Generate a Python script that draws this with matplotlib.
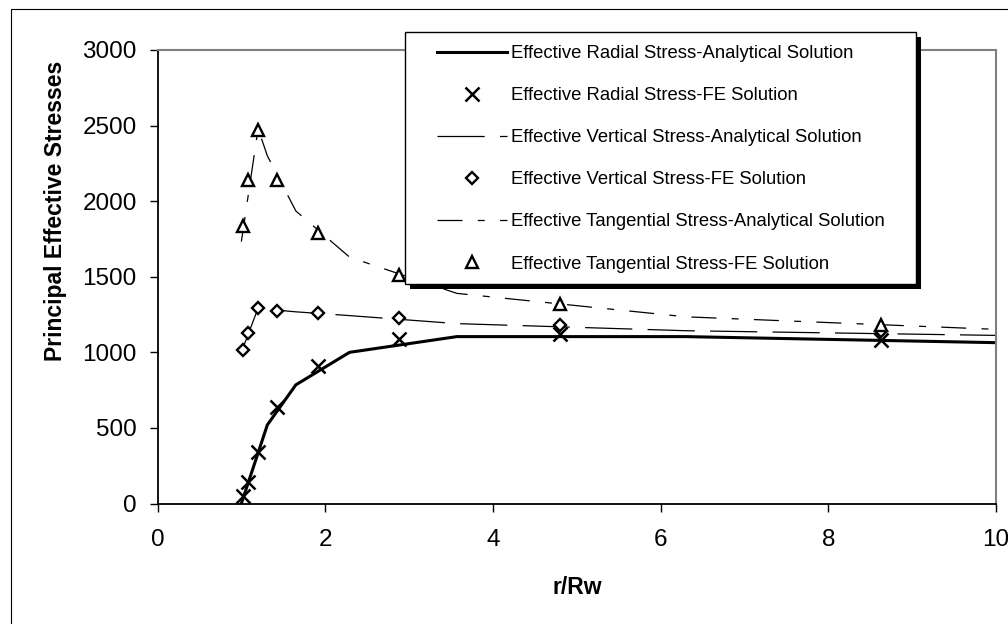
import matplotlib
matplotlib.use("Agg")
import matplotlib.pyplot as plt
from matplotlib.patches import Rectangle
from matplotlib.transforms import IdentityTransform

plt.rcParams['font.family'] = ['Liberation Sans', 'DejaVu Sans']
plt.rcParams['lines.scale_dashes'] = False

# FE solution points (r/Rw, stress)
fe_x = [1.02, 1.08, 1.2, 1.43, 1.92, 2.88, 4.8, 8.63]
fe_radial = [50, 144, 343, 640, 910, 1086, 1122, 1082]
fe_vertical = [1015, 1130, 1291, 1276, 1258, 1225, 1178, 1143]
fe_tangential = [1836, 2140, 2471, 2140, 1791, 1512, 1320, 1181]

# analytical solution curves
an_x = [1.0, 1.2, 1.31, 1.65, 2.29, 3.57, 6.3, 10.0]
an_radial = [0, 335, 520, 785, 1000, 1104, 1104, 1064]
an_vertical = [1000, 1293, 1285, 1268, 1243, 1190, 1143, 1112]
an_tangential = [1732, 2480, 2300, 1935, 1630, 1390, 1235, 1152]

labels = ["Effective Radial Stress-Analytical Solution",
          "Effective Radial Stress-FE Solution",
          "Effective Vertical Stress-Analytical Solution",
          "Effective Vertical Stress-FE Solution",
          "Effective Tangential Stress-Analytical Solution",
          "Effective Tangential Stress-FE Solution"]

W, H = 1008, 624
fig = plt.figure(figsize=(W / 100, H / 100), dpi=100)
ax = fig.add_axes([157.5 / W, 1 - 503.5 / H, (996 - 157.5) / W, (503.5 - 50) / H])

ax.plot(an_x, an_radial, color='black', lw=2.2, label=labels[0])
ax.plot(fe_x, fe_radial, ls='none', marker='x', ms=10, mew=1.8, color='black', label=labels[1])
ax.plot(an_x, an_vertical, color='black', lw=0.9, ls=(0, (34, 11)), label=labels[2])
ax.plot(fe_x, fe_vertical, ls='none', marker='D', ms=6.5, mew=1.7, mfc='white', mec='black',
        label=labels[3])
ax.plot(an_x, an_tangential, color='black', lw=0.9, ls=(0, (18, 11, 5, 11)), label=labels[4])
ax.plot(fe_x, fe_tangential, ls='none', marker='^', ms=9, mew=1.7, mfc='white', mec='black',
        label=labels[5])

ax.set_xlim(0, 10)
ax.set_ylim(0, 3000)
ax.set_xticks(range(0, 11, 2))
ax.set_yticks(range(0, 3001, 500))
ax.tick_params(direction='out', length=6, width=1, labelsize=17.5)
ax.tick_params(axis='y', pad=9)
ax.tick_params(axis='x', pad=12)
ax.set_xlabel('r/Rw', fontsize=16.5, fontweight='bold', labelpad=18)
ax.set_ylabel('Principal Effective Stresses', fontsize=16.5, fontweight='bold')
ax.yaxis.set_label_coords(-0.108, 0.645)
for s in ['left', 'bottom']:
    ax.spines[s].set_color('black')
    ax.spines[s].set_linewidth(1.3)
for s in ['top', 'right']:
    ax.spines[s].set_color('#808080')
    ax.spines[s].set_linewidth(1.5)

leg = ax.legend(loc='upper left', bbox_to_anchor=(437 / W, 1 - 45 / H),
                bbox_transform=fig.transFigure, borderaxespad=0, borderpad=0,
                fontsize=13.3, handlelength=3.8, handletextpad=0.2, labelspacing=1.36,
                frameon=False)
leg.set_zorder(10)

# legend box with a solid drop shadow, as in the original
fig.canvas.draw()
bb = leg.get_window_extent()
x0, x1 = bb.x0 - 32, bb.x1 + 31
y0, y1 = bb.y0 - 11, bb.y1 + 13
shadow = Rectangle((x0 + 5, y0 - 5), x1 - x0, y1 - y0, transform=IdentityTransform(),
                   facecolor='black', edgecolor='none', zorder=8, clip_on=False)
box = Rectangle((x0, y0), x1 - x0, y1 - y0, transform=IdentityTransform(),
                facecolor='white', edgecolor='black', lw=1, zorder=9, clip_on=False)
ax.add_artist(shadow)
ax.add_artist(box)

# outer chart border (cropped on the right and bottom)
fig.patches.append(Rectangle((11 / W, -0.2), 1.5, 1.2 - 9 / H, transform=fig.transFigure,
                             fill=False, edgecolor='black', lw=0.8))

fig.savefig('out.png', dpi=100)
